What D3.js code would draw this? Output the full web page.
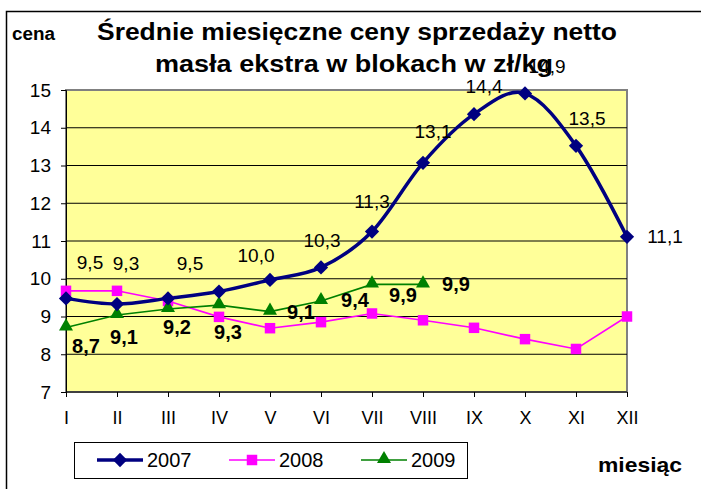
<!DOCTYPE html>
<html>
<head>
<meta charset="utf-8">
<script src="https://cdn.jsdelivr.net/npm/d3@7"></script>
<style>
  body { margin: 0; background: #fff; }
  text { font-family: "Liberation Sans", Arial, sans-serif; }
</style>
</head>
<body>
<svg id="chart" width="701" height="489"></svg>
<script>
// data
const months = ["I", "II", "III", "IV", "V", "VI", "VII", "VIII", "IX", "X", "XI", "XII"];
const years = ["2007", "2008", "2009"];
const values2007 = [9.48, 9.33, 9.48, 9.66, 9.97, 10.3, 11.25, 13.07, 14.36, 14.91, 13.52, 11.11];
const values2008 = [9.68, 9.68, 9.41, 8.99, 8.69, 8.85, 9.08, 8.9, 8.7, 8.4, 8.14, 9.0];
const values2009 = [8.71, 9.04, 9.2, 9.3, 9.13, 9.41, 9.85, 9.85];
const labels2007 = ["9,5", "9,3", "9,5", null, "10,0", "10,3", "11,3", "13,1", "14,4", "14,9", "13,5", "11,1"];
const labels2009 = ["8,7", "9,1", "9,2", "9,3", "9,1", "9,4", "9,9", "9,9"];
const yTicks = [7, 8, 9, 10, 11, 12, 13, 14, 15];

// label offsets (pixels) taken from where the labels sit in the original
const off2007 = [[24, -36], [9, -41], [22, -35], null, [-14, -25], [1, -27], [0, -30], [10, -32], [10, -28], [22, -27], [11, -28], [38, 0]];
const off2009 = [[20, 19], [7, 22], [9, 18], [9, 27], [31, 0], [34, -1], [31, 11], [33, 0]];

const svg = d3.select("#chart");
const plotLeft = 66, plotRight = 627, plotTop = 90, plotBottom = 392;

svg.append("rect").attr("width", 701).attr("height", 489).attr("fill", "#fff");
// outer frame (runs off the right and bottom edge)
svg.append("rect")
  .attr("x", 6.5).attr("y", 11.5).attr("width", 720).attr("height", 500)
  .attr("fill", "none").attr("stroke", "#000").attr("stroke-width", 1.5);

const x = d3.scalePoint().domain(months).range([plotLeft, plotRight]);
const y = d3.scaleLinear().domain([7, 15]).range([plotBottom, plotTop]);

// plot area
svg.append("rect")
  .attr("x", plotLeft).attr("y", plotTop).attr("width", plotRight - plotLeft).attr("height", plotBottom - plotTop)
  .attr("fill", "#FFFF99").attr("stroke", "#808080").attr("stroke-width", 2);

// gridlines
svg.append("g")
  .selectAll("line")
  .data(yTicks.filter((d) => d > 7 && d < 15))
  .join("line")
  .attr("x1", plotLeft).attr("x2", plotRight)
  .attr("y1", (d) => y(d)).attr("y2", (d) => y(d))
  .attr("stroke", "#000").attr("stroke-width", 1);

// y axis
const yAxis = svg.append("g")
  .attr("transform", "translate(" + plotLeft + ",0)")
  .call(d3.axisLeft(y).tickValues(yTicks).tickSize(5).tickPadding(10).tickFormat(d3.format("d")));
yAxis.selectAll("text").attr("font-size", "19px").attr("fill", "#000")
  .style("font-family", "Liberation Sans, Arial, sans-serif");
yAxis.selectAll("line, path").attr("stroke", "#000");

// x axis
const xAxis = svg.append("g")
  .attr("transform", "translate(0," + plotBottom + ")")
  .call(d3.axisBottom(x).tickSize(5).tickPadding(14));
xAxis.selectAll("text").attr("font-size", "18px").attr("fill", "#000")
  .style("font-family", "Liberation Sans, Arial, sans-serif");
xAxis.selectAll("line, path").attr("stroke", "#000");
xAxis.select("path").attr("d", "M" + plotLeft + ",0H" + plotRight);

// lines
const line = d3.line().x((d, i) => x(months[i])).y((d) => y(d));
const smooth = d3.line().x((d, i) => x(months[i])).y((d) => y(d)).curve(d3.curveCardinal.tension(0));

svg.append("path").datum(values2008)
  .attr("fill", "none").attr("stroke", "#FF00FF").attr("stroke-width", 1.6).attr("d", line);
svg.append("path").datum(values2009)
  .attr("fill", "none").attr("stroke", "#008000").attr("stroke-width", 1.6).attr("d", line);
svg.append("path").datum(values2007)
  .attr("fill", "none").attr("stroke", "#000080").attr("stroke-width", 3.5).attr("d", smooth);

// markers
const diamond = d3.symbol().type(d3.symbolDiamond2).size(130);
const square = d3.symbol().type(d3.symbolSquare).size(110);
const triangle = d3.symbol().type(d3.symbolTriangle).size(85);

svg.append("g").selectAll("path").data(values2008).join("path")
  .attr("transform", (d, i) => "translate(" + x(months[i]) + "," + y(d) + ")")
  .attr("d", square).attr("fill", "#FF00FF");
svg.append("g").selectAll("path").data(values2009).join("path")
  .attr("transform", (d, i) => "translate(" + x(months[i]) + "," + (y(d) - 1) + ")")
  .attr("d", triangle).attr("fill", "#008000");
svg.append("g").selectAll("path").data(values2007).join("path")
  .attr("transform", (d, i) => "translate(" + x(months[i]) + "," + y(d) + ")")
  .attr("d", diamond).attr("fill", "#000080");

// data labels
svg.append("g").selectAll("text")
  .data(values2007.map((v, i) => ({ v: v, i: i })).filter((d) => labels2007[d.i]))
  .join("text")
  .attr("x", (d) => x(months[d.i]) + off2007[d.i][0])
  .attr("y", (d) => y(d.v) + off2007[d.i][1])
  .attr("dy", "0.35em")
  .attr("text-anchor", "middle")
  .attr("font-size", "19px")
  .text((d) => labels2007[d.i]);

svg.append("g").selectAll("text")
  .data(values2009)
  .join("text")
  .attr("x", (d, i) => x(months[i]) + off2009[i][0])
  .attr("y", (d, i) => y(d) + off2009[i][1])
  .attr("dy", "0.35em")
  .attr("text-anchor", "middle")
  .attr("font-size", "20px")
  .attr("font-weight", "bold")
  .text((d, i) => labels2009[i]);

// titles (the original text is drawn wider than the font, so stretch it)
svg.append("text").attr("x", 12).attr("y", 40)
  .attr("font-size", "18px").attr("font-weight", "bold")
  .attr("textLength", 43).attr("lengthAdjust", "spacingAndGlyphs").text("cena");
svg.append("text").attr("x", 97).attr("y", 40)
  .attr("font-size", "23px").attr("font-weight", "bold")
  .attr("textLength", 520).attr("lengthAdjust", "spacingAndGlyphs")
  .text("Średnie miesięczne ceny sprzedaży netto");
svg.append("text").attr("x", 155).attr("y", 72)
  .attr("font-size", "23px").attr("font-weight", "bold")
  .attr("textLength", 398).attr("lengthAdjust", "spacingAndGlyphs")
  .text("masła ekstra w blokach w zł/kg");
svg.append("text").attr("x", 598).attr("y", 472)
  .attr("font-size", "21px").attr("font-weight", "bold")
  .attr("textLength", 84).attr("lengthAdjust", "spacingAndGlyphs").text("miesiąc");

// legend
const legend = svg.append("g");
legend.append("rect").attr("x", 74.5).attr("y", 442.5).attr("width", 393).attr("height", 36)
  .attr("fill", "#fff").attr("stroke", "#000");
const legColors = ["#000080", "#FF00FF", "#008000"];
const legWidths = [3.5, 1.6, 1.6];
const legSymbols = [diamond, square, triangle];
const legX = d3.scalePoint().domain(years).range([97, 361]);
years.forEach((yr, i) => {
  const lx = legX(yr);
  legend.append("line").attr("x1", lx).attr("x2", lx + 46).attr("y1", 460).attr("y2", 460)
    .attr("stroke", legColors[i]).attr("stroke-width", legWidths[i]);
  legend.append("path").attr("transform", "translate(" + (lx + 23) + "," + (i === 2 ? 459 : 460) + ")")
    .attr("d", legSymbols[i]).attr("fill", legColors[i]);
  legend.append("text").attr("x", lx + 50).attr("y", 467)
    .attr("font-size", "20px").text(yr);
});
</script>
</body>
</html>
